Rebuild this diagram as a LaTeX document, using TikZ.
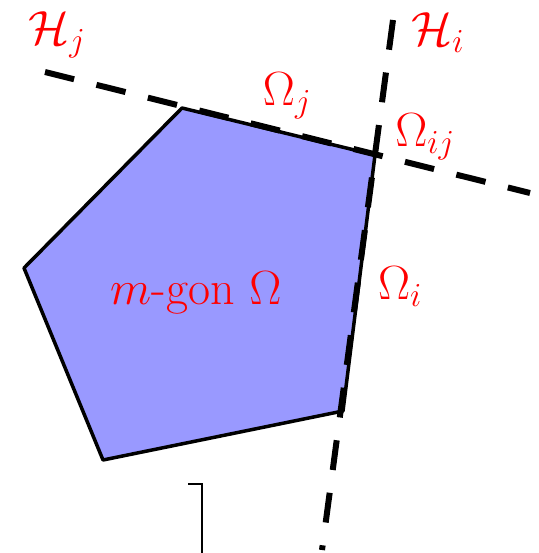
\documentclass[tikz,border=0pt]{standalone}
\usepackage{fix-cm}
\usepackage{amsmath}
\begin{document}
\begin{tikzpicture}[x=1pt,y=-1pt,
  lbl/.style={text=red,font=\fontsize{48}{52}\selectfont,inner sep=0pt},
  hyper/.style={line width=6pt,dash pattern=on 30pt off 23pt},
  edge/.style={line width=3.5pt,line join=round}]
\useasboundingbox (0,0) rectangle (538,553);
\coordinate (A) at (182,108);
\coordinate (B) at (375,155);
\coordinate (C) at (343,411);
\coordinate (D) at (103,460);
\coordinate (E) at (24,268);
\coordinate (hj1) at (45,72);
\coordinate (hj2) at (530,193);
\coordinate (hi1) at (393,20);
\coordinate (hi2) at (322,550);
\fill[blue!40!white] (A) -- (B) -- (C) -- (D) -- (E) -- cycle;
\draw[edge] (A) -- (B) -- (C) -- (D) -- (E) -- cycle;
\draw[hyper] (hj1) -- (hj2);
\draw[hyper] (hi1) -- (hi2);
\node[lbl] (Hj) at (57,35) {$\mathcal{H}_j$};
\node[lbl] (Hi) at (438,33) {$\mathcal{H}_i$};
\node[lbl] (Oj) at (287,96) {$\Omega_j$};
\node[lbl] (Oij) at (425,137) {$\Omega_{ij}$};
\node[lbl] (Oi) at (400,287) {$\Omega_i$};
\node[lbl] (Om) at (196,293) {$m$-gon $\Omega$};
\coordinate (br1) at (188,484);
\coordinate (br2) at (202,484);
\coordinate (br3) at (202,553);
\draw[line width=2pt] (br1) -- (br2) -- (br3);
\end{tikzpicture}
\end{document}
